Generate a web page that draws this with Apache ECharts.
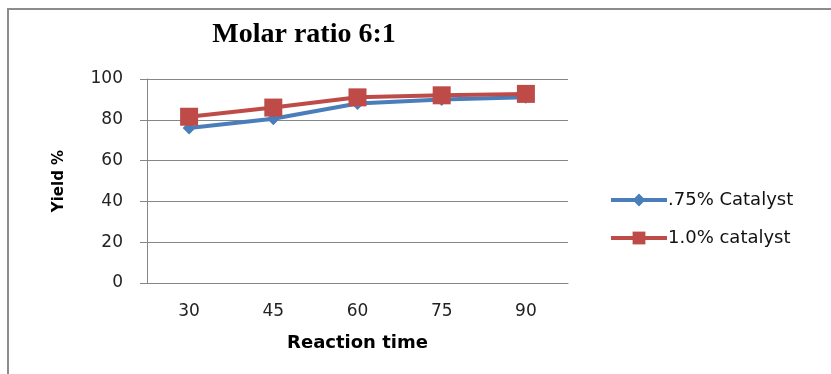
<!DOCTYPE html>
<html><head><meta charset="utf-8">
<script src="https://cdn.jsdelivr.net/npm/echarts@6/dist/echarts.min.js"></script>
<style>html,body{margin:0;padding:0;background:#fff}#c{width:831px;height:374px}</style>
</head><body><div id="c"></div>
<script>
var categories = ['30', '45', '60', '75', '90'];
var catalyst075 = [76, 80.5, 88, 90, 91];
var catalyst100 = [81.5, 86, 91, 92, 92.7];
var seriesNames = ['.75% Catalyst', '1.0% catalyst'];
var yTicks = [0, 20, 40, 60, 80, 100];

var chart = echarts.init(document.getElementById('c'));
chart.setOption({
  animation: false,
  backgroundColor: '#fff',
  graphic: [{
    type: 'polyline', shape: { points: [[8, 374], [8, 9], [831, 9]] },
    style: { stroke: '#8c8c8c', lineWidth: 2, fill: null }
  }],
  title: {
    text: 'Molar ratio 6:1', left: 299, top: 16, textAlign: 'center',
    textStyle: { fontFamily: 'Liberation Serif', fontWeight: 'bold', fontSize: 28, color: '#000' }
  },
  legend: {
    orient: 'vertical', left: 604, top: 186, itemGap: 20, itemWidth: 56, itemHeight: 16,
    lineStyle: { width: 4 },
    textStyle: { fontFamily: 'DejaVu Sans', fontSize: 18, color: '#111', padding: [0, 0, 0, -4] },
    data: seriesNames
  },
  grid: { left: 147, right: 263, top: 79, bottom: 91 },
  xAxis: {
    type: 'category', data: categories, boundaryGap: true,
    name: 'Reaction time', nameLocation: 'middle', nameGap: 51,
    nameTextStyle: { fontFamily: 'DejaVu Sans', fontWeight: 'bold', fontSize: 18, color: '#000' },
    axisLine: { lineStyle: { color: '#868686' } },
    axisTick: { show: false },
    axisLabel: { fontFamily: 'DejaVu Sans', fontSize: 17, color: '#222', margin: 20 }
  },
  yAxis: {
    type: 'value', min: 0, max: 100, interval: 20,
    name: 'Yield %', nameLocation: 'middle', nameGap: 80, nameRotate: 90,
    nameTextStyle: { fontFamily: 'DejaVu Sans', fontWeight: 'bold', fontSize: 15, color: '#000' },
    axisLine: { show: true, lineStyle: { color: '#868686' } },
    axisTick: { show: true, length: 7, lineStyle: { color: '#868686' } },
    axisLabel: { fontFamily: 'DejaVu Sans', fontSize: 17, color: '#222', margin: 24 },
    splitLine: { lineStyle: { color: '#868686' } }
  },
  series: [{
    name: seriesNames[0], type: 'line', data: catalyst075,
    symbol: 'diamond', symbolSize: 13,
    lineStyle: { width: 4, color: '#4a7ebb' }, itemStyle: { color: '#4a7ebb' }
  }, {
    name: seriesNames[1], type: 'line', data: catalyst100,
    symbol: 'rect', symbolSize: 18,
    lineStyle: { width: 4, color: '#be4b48' }, itemStyle: { color: '#be4b48' }
  }]
});
</script></body></html>
